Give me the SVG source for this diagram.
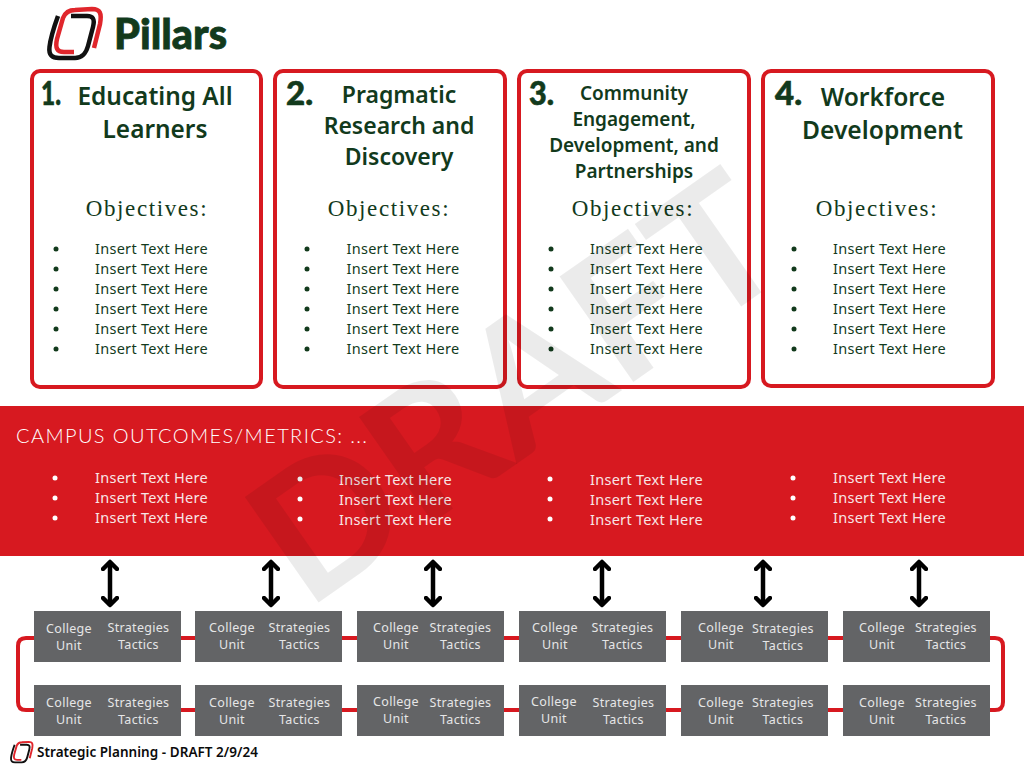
<svg xmlns="http://www.w3.org/2000/svg" xmlns:xlink="http://www.w3.org/1999/xlink" width="1024" height="768" viewBox="0 0 1024 768">
<style>
.pillar{fill:none;stroke:#d71920;stroke-width:4}
.h{font-family:"Noto Sans",sans-serif;font-weight:600;fill:#123a1c;text-anchor:middle}
.num{font-family:"Lato",sans-serif;font-weight:900;font-size:32px;fill:#123a1c;stroke:#123a1c;stroke-width:.6}
.obj{font-family:"Liberation Serif",serif;font-size:23px;letter-spacing:1.6px;fill:#123a1c;text-anchor:middle}
.it{font-family:"Noto Sans",sans-serif;font-size:14.5px;letter-spacing:.28px;fill:#123a1c}
.itw{font-family:"Noto Sans",sans-serif;font-size:14.5px;letter-spacing:.28px;fill:#f7e6e6}
.bk{fill:#123a1c}.bw{fill:#fff}
.unit{fill:#636466}
.ut{font-family:"Noto Sans",sans-serif;font-size:12.5px;letter-spacing:.3px;fill:#e6e6e7;text-anchor:middle}
.link{fill:none;stroke:#d71920;stroke-width:4}
.arrow{stroke:#000;stroke-width:4.500;fill:none;marker-start:url(#chev);marker-end:url(#chev)}
</style>
<defs>
<marker id="chev" viewBox="-9 -9 18 18" markerUnits="userSpaceOnUse" markerWidth="18" markerHeight="18" refX="0" refY="0" orient="auto-start-reverse"><path d="M-7 -7L0 0L-7 7" fill="none" stroke="#000" stroke-width="4.500" stroke-linecap="round" stroke-linejoin="round"/></marker>
<g id="logo">
<path d="M11 9C7 20 3.500 31 2.500 40C1.500 48 5 51 12 51L28 51C36 51 39 46 41 39L46 20C48 12 46 9 40 9L24 9" fill="none" stroke="#111" stroke-width="4.500"/>
<path d="M47 41L53 17C55 6 53 2 45 2L28 3C21 3 18 6 16 11L10 32C8 41 10 45 17 45L27 45" fill="none" stroke="#e0262c" stroke-width="4.500"/>
</g>
</defs>
<rect width="1024" height="768" fill="#fff"/>
<g id="band"><rect x="0" y="406" width="1024" height="150" fill="#d71920"/></g>
<g id="connectors">
<path class="link" d="M34 638H26Q18 638 18 646V702Q18 710 26 710H34"/>
<path class="link" d="M990 638H995Q1003 638 1003 646V702Q1003 710 995 710H990"/>
<path class="link" d="M181 638H195M342 638H357M504 638H519M666 638H681M828 638H843M181 710H195M342 710H357M504 710H519M666 710H681M828 710H843"/>
<path class="arrow" d="M110 562V605"/>
<path class="arrow" d="M271 562V605"/>
<path class="arrow" d="M433 562V605"/>
<path class="arrow" d="M602 562V605"/>
<path class="arrow" d="M763 562V605"/>
<path class="arrow" d="M919 562V605"/>
</g>
<g id="header">
<use xlink:href="#logo" href="#logo" transform="translate(47,7)"/>
<text x="114" y="49" font-family="Lato,sans-serif" font-weight="900" font-size="42" fill="#123a1c" stroke="#123a1c" stroke-width=".8" textLength="113" lengthAdjust="spacingAndGlyphs">Pillars</text>
</g>
<g id="pillar1">
<rect class="pillar" x="32" y="71" width="229" height="316" rx="8"/>
<text class="num" x="41" y="105" textLength="20" lengthAdjust="spacingAndGlyphs">1.</text>
<text class="h" font-size="24.400" x="155" y="105">Educating All</text>
<text class="h" font-size="24.400" x="155" y="138">Learners</text>
<text class="obj" x="147" y="216">Objectives:</text>
<g id="list1"><circle class="bk" cx="56" cy="249" r="2.5"/><circle class="bk" cx="56" cy="269" r="2.5"/><circle class="bk" cx="56" cy="289" r="2.5"/><circle class="bk" cx="56" cy="309" r="2.5"/><circle class="bk" cx="56" cy="329" r="2.5"/><circle class="bk" cx="56" cy="349" r="2.5"/>
<text class="it" x="95" y="254">Insert Text Here</text><text class="it" x="95" y="274">Insert Text Here</text><text class="it" x="95" y="294">Insert Text Here</text><text class="it" x="95" y="314">Insert Text Here</text><text class="it" x="95" y="334">Insert Text Here</text><text class="it" x="95" y="354">Insert Text Here</text></g>
</g>
<g id="pillar2">
<rect class="pillar" x="275" y="71" width="230" height="316" rx="8"/>
<text class="num" x="286" y="105" textLength="27" lengthAdjust="spacingAndGlyphs">2.</text>
<text class="h" font-size="23" x="399" y="103">Pragmatic</text>
<text class="h" font-size="23" x="399" y="134">Research and</text>
<text class="h" font-size="23" x="399" y="165">Discovery</text>
<text class="obj" x="389" y="216">Objectives:</text>
<g id="list2"><circle class="bk" cx="307" cy="249" r="2.5"/><circle class="bk" cx="307" cy="269" r="2.5"/><circle class="bk" cx="307" cy="289" r="2.5"/><circle class="bk" cx="307" cy="309" r="2.5"/><circle class="bk" cx="307" cy="329" r="2.5"/><circle class="bk" cx="307" cy="349" r="2.5"/>
<text class="it" x="346.500" y="254">Insert Text Here</text><text class="it" x="346.500" y="274">Insert Text Here</text><text class="it" x="346.500" y="294">Insert Text Here</text><text class="it" x="346.500" y="314">Insert Text Here</text><text class="it" x="346.500" y="334">Insert Text Here</text><text class="it" x="346.500" y="354">Insert Text Here</text></g>
</g>
<g id="pillar3">
<rect class="pillar" x="519" y="71" width="230" height="316" rx="8"/>
<text class="num" x="529" y="105" textLength="25" lengthAdjust="spacingAndGlyphs">3.</text>
<text class="h" font-size="19" x="634" y="100">Community</text>
<text class="h" font-size="19" x="634" y="126">Engagement,</text>
<text class="h" font-size="19" x="634" y="152">Development, and</text>
<text class="h" font-size="19" x="634" y="178">Partnerships</text>
<text class="obj" x="633" y="216">Objectives:</text>
<g id="list3"><circle class="bk" cx="551" cy="249" r="2.5"/><circle class="bk" cx="551" cy="269" r="2.5"/><circle class="bk" cx="551" cy="289" r="2.5"/><circle class="bk" cx="551" cy="309" r="2.5"/><circle class="bk" cx="551" cy="329" r="2.5"/><circle class="bk" cx="551" cy="349" r="2.5"/>
<text class="it" x="590" y="254">Insert Text Here</text><text class="it" x="590" y="274">Insert Text Here</text><text class="it" x="590" y="294">Insert Text Here</text><text class="it" x="590" y="314">Insert Text Here</text><text class="it" x="590" y="334">Insert Text Here</text><text class="it" x="590" y="354">Insert Text Here</text></g>
</g>
<g id="pillar4">
<rect class="pillar" x="763" y="71" width="230" height="315" rx="8"/>
<text class="num" x="775" y="105" textLength="27" lengthAdjust="spacingAndGlyphs">4.</text>
<text class="h" font-size="24.600" x="883" y="106">Workforce</text>
<text class="h" font-size="24.600" x="882.500" y="139">Development</text>
<text class="obj" x="877" y="216">Objectives:</text>
<g id="list4"><circle class="bk" cx="794" cy="249" r="2.5"/><circle class="bk" cx="794" cy="269" r="2.5"/><circle class="bk" cx="794" cy="289" r="2.5"/><circle class="bk" cx="794" cy="309" r="2.5"/><circle class="bk" cx="794" cy="329" r="2.5"/><circle class="bk" cx="794" cy="349" r="2.5"/>
<text class="it" x="833" y="254">Insert Text Here</text><text class="it" x="833" y="274">Insert Text Here</text><text class="it" x="833" y="294">Insert Text Here</text><text class="it" x="833" y="314">Insert Text Here</text><text class="it" x="833" y="334">Insert Text Here</text><text class="it" x="833" y="354">Insert Text Here</text></g>
</g>
<g id="metrics">
<text x="16" y="443" font-family="Lato,sans-serif" font-weight="300" font-size="20" fill="#fff" textLength="351">CAMPUS OUTCOMES/METRICS: ...</text>
<circle class="bw" cx="55" cy="478" r="2.5"/><circle class="bw" cx="55" cy="498" r="2.5"/><circle class="bw" cx="55" cy="518" r="2.5"/>
<text class="itw" x="95" y="483">Insert Text Here</text><text class="itw" x="95" y="503">Insert Text Here</text><text class="itw" x="95" y="523">Insert Text Here</text>
<circle class="bw" cx="300" cy="479" r="2.5"/><circle class="bw" cx="300" cy="499" r="2.5"/><circle class="bw" cx="300" cy="519" r="2.5"/>
<text class="itw" x="339" y="485">Insert Text Here</text><text class="itw" x="339" y="505">Insert Text Here</text><text class="itw" x="339" y="525">Insert Text Here</text>
<circle class="bw" cx="550" cy="479" r="2.5"/><circle class="bw" cx="550" cy="499" r="2.5"/><circle class="bw" cx="550" cy="519" r="2.5"/>
<text class="itw" x="590" y="485">Insert Text Here</text><text class="itw" x="590" y="505">Insert Text Here</text><text class="itw" x="590" y="525">Insert Text Here</text>
<circle class="bw" cx="793" cy="478" r="2.5"/><circle class="bw" cx="793" cy="498" r="2.5"/><circle class="bw" cx="793" cy="518" r="2.5"/>
<text class="itw" x="833" y="483">Insert Text Here</text><text class="itw" x="833" y="503">Insert Text Here</text><text class="itw" x="833" y="523">Insert Text Here</text>
</g>
<g id="unit-a1"><rect class="unit" x="34" y="611" width="147" height="51"/><text class="ut" x="69" y="633">College</text><text class="ut" x="69" y="650">Unit</text><text class="ut" x="138.500" y="632">Strategies</text><text class="ut" x="138.500" y="649">Tactics</text></g>
<g id="unit-a2"><rect class="unit" x="195" y="611" width="147" height="51"/><text class="ut" x="232" y="632">College</text><text class="ut" x="232" y="649">Unit</text><text class="ut" x="299.500" y="632">Strategies</text><text class="ut" x="299.500" y="649">Tactics</text></g>
<g id="unit-a3"><rect class="unit" x="357" y="611" width="147" height="51"/><text class="ut" x="396" y="632">College</text><text class="ut" x="396" y="649">Unit</text><text class="ut" x="460.500" y="632">Strategies</text><text class="ut" x="460.500" y="649">Tactics</text></g>
<g id="unit-a4"><rect class="unit" x="519" y="611" width="147" height="51"/><text class="ut" x="555" y="632">College</text><text class="ut" x="555" y="649">Unit</text><text class="ut" x="622.500" y="632">Strategies</text><text class="ut" x="622.500" y="649">Tactics</text></g>
<g id="unit-a5"><rect class="unit" x="681" y="611" width="147" height="51"/><text class="ut" x="721" y="632">College</text><text class="ut" x="721" y="649">Unit</text><text class="ut" x="783" y="633">Strategies</text><text class="ut" x="783" y="650">Tactics</text></g>
<g id="unit-a6"><rect class="unit" x="843" y="611" width="147" height="51"/><text class="ut" x="882" y="632">College</text><text class="ut" x="882" y="649">Unit</text><text class="ut" x="946" y="632">Strategies</text><text class="ut" x="946" y="649">Tactics</text></g>
<g id="unit-b1"><rect class="unit" x="34" y="685" width="147" height="51"/><text class="ut" x="69" y="707">College</text><text class="ut" x="69" y="724">Unit</text><text class="ut" x="138.500" y="707">Strategies</text><text class="ut" x="138.500" y="724">Tactics</text></g>
<g id="unit-b2"><rect class="unit" x="195" y="685" width="147" height="51"/><text class="ut" x="232" y="707">College</text><text class="ut" x="232" y="724">Unit</text><text class="ut" x="299.500" y="707">Strategies</text><text class="ut" x="299.500" y="724">Tactics</text></g>
<g id="unit-b3"><rect class="unit" x="357" y="685" width="147" height="51"/><text class="ut" x="396" y="706">College</text><text class="ut" x="396" y="723">Unit</text><text class="ut" x="460.500" y="707">Strategies</text><text class="ut" x="460.500" y="724">Tactics</text></g>
<g id="unit-b4"><rect class="unit" x="519" y="685" width="147" height="51"/><text class="ut" x="554" y="706">College</text><text class="ut" x="554" y="723">Unit</text><text class="ut" x="623.500" y="707">Strategies</text><text class="ut" x="623.500" y="724">Tactics</text></g>
<g id="unit-b5"><rect class="unit" x="681" y="685" width="147" height="51"/><text class="ut" x="721" y="707">College</text><text class="ut" x="721" y="724">Unit</text><text class="ut" x="783" y="707">Strategies</text><text class="ut" x="783" y="724">Tactics</text></g>
<g id="unit-b6"><rect class="unit" x="843" y="685" width="147" height="51"/><text class="ut" x="882" y="707">College</text><text class="ut" x="882" y="724">Unit</text><text class="ut" x="946" y="707">Strategies</text><text class="ut" x="946" y="724">Tactics</text></g>
<g id="footer">
<use xlink:href="#logo" href="#logo" transform="translate(10,741) scale(.42)"/>
<text x="37" y="757" font-family="Noto Sans,sans-serif" font-weight="600" font-size="13.500" fill="#0b0b0b" textLength="221">Strategic Planning - DRAFT 2/9/24</text>
</g>
<text id="watermark" transform="translate(306.500,611) rotate(-35)" font-family="Lato,sans-serif" font-weight="700" font-size="178" fill="#000" fill-opacity=".08" textLength="598" lengthAdjust="spacingAndGlyphs">DRAFT</text>
</svg>
